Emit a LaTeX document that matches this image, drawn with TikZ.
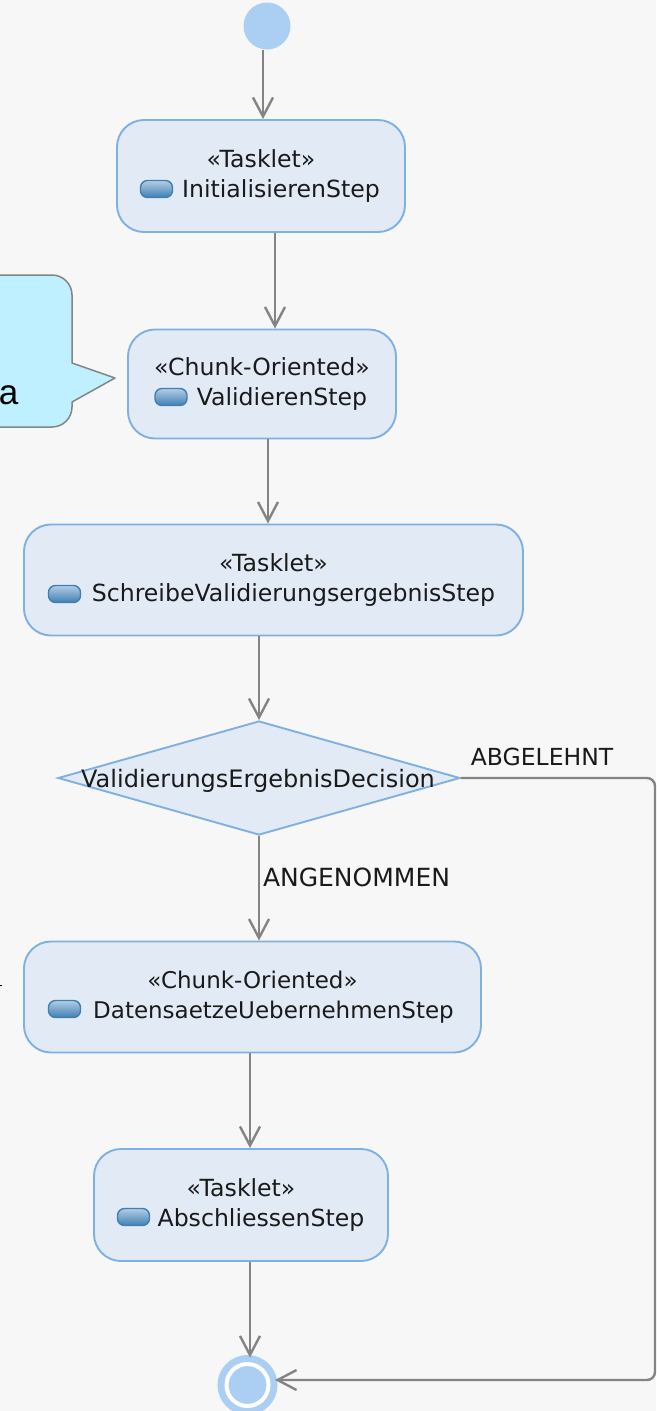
\documentclass[tikz,border=0pt]{standalone}
\usepackage{fontspec}
\setmainfont{DejaVu Sans}
\newfontfamily\notefont{Liberation Sans}
\usetikzlibrary{arrows.meta}
\usetikzlibrary{shapes.geometric}
\definecolor{pagegray}{HTML}{F7F7F7}
\definecolor{boxfill}{HTML}{E1EAF5}
\definecolor{boxline}{HTML}{7FB0E0}
\definecolor{dotblue}{HTML}{ABCFF2}
\definecolor{flowgray}{HTML}{848484}
\definecolor{notecyan}{HTML}{BFF0FF}
\definecolor{textblack}{HTML}{1A1A1A}
\definecolor{icontop}{HTML}{B4CDE4}
\definecolor{iconbottom}{HTML}{3F7FB4}
\tikzset{
  stepbox/.style={draw=boxline, fill=boxfill, line width=1.9pt, rounded corners=27pt,
    inner sep=0pt, align=center, text=textblack, font=\fontsize{23.6}{29.5}\selectfont},
  stepicon/.style={draw=iconbottom, line width=1.4pt, rounded corners=7pt,
    top color=icontop, bottom color=iconbottom, minimum width=32pt, minimum height=17pt, inner sep=0pt},
  flow/.style={draw=flowgray, line width=2.4pt, -{Straight Barb[length=19pt,width=20pt,line width=2.4pt]}},
  edgelabel/.style={text=textblack, inner sep=0pt, font=\fontsize{23.5}{25}\selectfont},
}
\begin{document}
\begin{tikzpicture}[x=1pt,y=-1pt]
\useasboundingbox (0,0) rectangle (656,1411);
\clip (0,0) rectangle (656,1411);
\fill [pagegray] (0,0) rectangle (656,1411);
% note at the left edge
\fill [notecyan, draw=flowgray, line width=1.5pt, line join=round]
     (-40,275) -- (52,275) to [out=0,in=90] (72,295) -- (72,363) -- (115,378)
  -- (72,402) -- (72,407) to [out=-90,in=0] (52,427) -- (-40,427) -- cycle;
\node [inner sep=0pt] (notetext) at (8.5,395) {\notefont\fontsize{35}{36}\selectfont a};
\draw [black, line width=0.8pt] (-1,985) -- (1.5,985);
% activity nodes
\node [circle, fill=dotblue, minimum size=47pt, inner sep=0pt] (start) at (267,26) {};
\node [stepbox, minimum width=288pt, minimum height=112pt] (init) at (261,176)
  {«Tasklet»\\\hspace*{40pt}InitialisierenStep};
\node [stepbox, minimum width=268pt, minimum height=109pt] (valid) at (262,384)
  {«Chunk-Oriented»\\\hspace*{40pt}ValidierenStep};
\node [stepbox, minimum width=499pt, minimum height=111pt] (write) at (273.5,580)
  {«Tasklet»\\\hspace*{40pt}SchreibeValidierungsergebnisStep};
\node [diamond, draw=boxline, fill=boxfill, line width=1.9pt, minimum width=402pt, minimum height=114pt,
  inner sep=0pt, aspect=3.5] (decide) at (259,778) {};
\node [edgelabel, font=\fontsize{24}{25}\selectfont] (decidetext) at (258,781) {ValidierungsErgebnisDecision};
\node [stepbox, minimum width=457pt, minimum height=111pt, font=\fontsize{23}{29.5}\selectfont] (merge) at (252.5,997)
  {«Chunk-Oriented»\\\hspace*{42pt}DatensaetzeUebernehmenStep};
\node [stepbox, minimum width=294pt, minimum height=112pt] (finish) at (241,1205)
  {«Tasklet»\\\hspace*{40pt}AbschliessenStep};
\node [circle, draw=dotblue, fill=dotblue, double=white, double distance=4pt, line width=7pt,
  minimum size=42pt, inner sep=0pt] (end) at (247.5,1385) {};
% step icons
\node [stepicon] (initicon) at (156.5,189) {};
\node [stepicon] (valicon) at (171,397) {};
\node [stepicon] (writeicon) at (64.5,594) {};
\node [stepicon] (mergeicon) at (64.5,1009) {};
\node [stepicon] (finishicon) at (133.5,1217) {};
% flows
\coordinate (corner1) at (655,778);
\coordinate (corner2) at (655,1380);
\draw [flow] ([xshift=-4pt]start.south) -- ([xshift=2pt]init.north);
\draw [flow] ([xshift=14pt]init.south) -- ([xshift=13pt]valid.north);
\draw [flow] ([xshift=6pt]valid.south) -- ([xshift=-5.5pt]write.north);
\draw [flow] ([xshift=-14.5pt]write.south) -- (decide.north);
\draw [flow] (decide.south) -- ([xshift=6.5pt]merge.north);
\draw [flow] ([xshift=-2.5pt]merge.south) -- ([xshift=9pt]finish.north);
\draw [flow] ([xshift=9pt]finish.south) -- ([xshift=2.5pt,yshift=3pt]end.north);
\draw [flow, rounded corners=8pt] (decide.east) -- (corner1) -- (corner2) -- ([xshift=3pt]end.east |- corner2);
% branch names
\node [edgelabel] (rejected) at (542,757) {ABGELEHNT};
\node [edgelabel, font=\fontsize{25}{25}\selectfont] (accepted) at (356.5,877) {ANGENOMMEN};
\end{tikzpicture}
\end{document}
